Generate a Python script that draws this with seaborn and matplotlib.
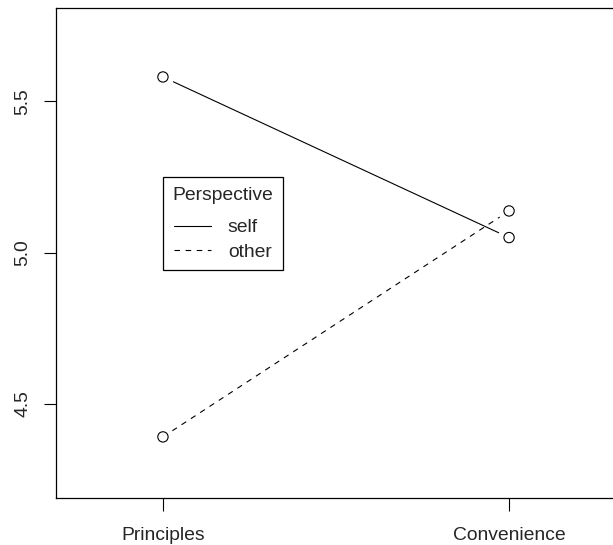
import matplotlib
matplotlib.use("Agg")
import matplotlib.pyplot as plt
from matplotlib.lines import Line2D
import seaborn as sns
import pandas as pd

# interaction means
conditions = ["Principles", "Convenience"]
self_means = [5.581, 5.050]
other_means = [4.391, 5.138]
perspectives = ["self", "other"]
y_ticks = [4.5, 5.0, 5.5]

df = pd.DataFrame({
    "Condition": conditions * 2,
    "Mean": self_means + other_means,
    "Perspective": ["self"] * len(conditions) + ["other"] * len(conditions),
})

sns.set_style("white")
plt.rcParams["font.family"] = ["Liberation Sans", "DejaVu Sans"]

fig = plt.figure(figsize=(6.13, 5.45), dpi=100)
ax = fig.add_axes([56 / 613, 47 / 545, 560 / 613, 490 / 545])

sns.lineplot(data=df, x="Condition", y="Mean", style="Perspective",
             style_order=perspectives, dashes={"self": "", "other": (5, 5)},
             color="black", linewidth=0.8, legend=False, ax=ax, sort=False)
# white halo so lines stop short of the points, like R's type="b"
sns.scatterplot(data=df, x="Condition", y="Mean", s=260, color="white",
                edgecolor="none", legend=False, ax=ax, zorder=3)
sns.scatterplot(data=df, x="Condition", y="Mean", s=55, facecolor="none",
                edgecolor="black", linewidth=0.8, legend=False, ax=ax, zorder=4)

ax.set_xlim(-0.309, 1.309)
ax.set_ylim(4.189, 5.809)
ax.set_yticks(y_ticks)
ax.set_yticklabels([f"{v:.1f}" for v in y_ticks], rotation=90, va="center")
ax.set_xlabel("")
ax.set_ylabel("")
ax.tick_params(axis="both", which="major", length=9, width=0.8, color="black",
               labelsize=13.9, pad=9, left=True, bottom=True)
ax.tick_params(axis="x", pad=12)
for s in ax.spines.values():
    s.set_color("black")
    s.set_linewidth(0.9)

handles = [Line2D([], [], color="black", lw=0.8, linestyle="-"),
           Line2D([], [], color="black", lw=0.8, linestyle=(0, (5, 5)))]
leg = fig.legend(handles, perspectives, title="Perspective", loc="upper left",
                 bbox_to_anchor=(162.7 / 613, (545 - 177.3) / 545),
                 fontsize=13.9, title_fontsize=13.9, frameon=True, fancybox=False,
                 edgecolor="black", framealpha=1, handlelength=1.9,
                 handletextpad=0.9, labelspacing=0.35, borderpad=0.5,
                 borderaxespad=0)
leg.get_frame().set_linewidth(0.9)
# extra room between the title and the entries
leg._legend_box.sep = 10.7

fig.savefig("out.png", dpi=100)
